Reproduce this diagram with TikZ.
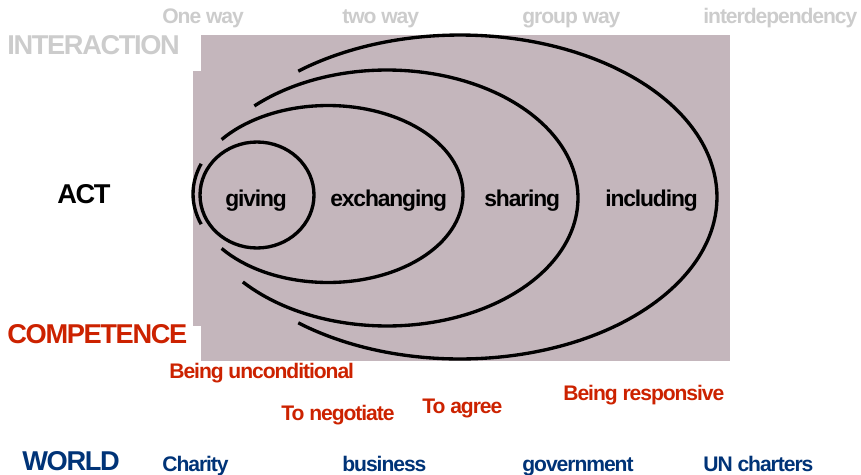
\documentclass[tikz,border=0pt]{standalone}
\usepackage{fontspec}
\setmainfont{Liberation Sans}[LetterSpace=-5]
\definecolor{mauve}{RGB}{196,182,188}
\definecolor{headgrey}{RGB}{204,204,204}
\definecolor{skillred}{RGB}{204,34,0}
\definecolor{worldblue}{RGB}{0,51,119}
\tikzset{
  head/.style={text=headgrey,font=\bfseries\fontsize{12}{14}\selectfont},
  rowname/.style={font=\bfseries\fontsize{15.5}{18}\selectfont},
  skill/.style={text=skillred,font=\bfseries\fontsize{12}{14}\selectfont},
  world/.style={text=worldblue,font=\bfseries\fontsize{12}{14}\selectfont},
  deed/.style={font=\bfseries\fontsize{13}{15}\selectfont},
  ring/.style={line width=1.9pt}
}

\begin{document}
\begin{tikzpicture}
[x=0.02cm,y=0.02cm,every node/.style={inner sep=0pt,anchor=base west}]
\useasboundingbox (0,0) rectangle (861,474);
% background
\fill[mauve] (201,439) rectangle (730,113);
\fill[mauve] (193,403) rectangle (201,148);
% nested rings
\draw[ring] (257,279) ellipse [x radius=1.14cm,y radius=1.06cm];
\draw[ring] (328,280) ++(-142:2.7cm and 1.77cm) arc[start angle=-142,end angle=142,x radius=2.7cm,y radius=1.77cm];
\draw[ring] (328,280) ++(160:2.7cm and 1.77cm) arc[start angle=160,end angle=200,x radius=2.7cm,y radius=1.77cm];
\draw[ring] (387,276) ++(-139:3.82cm and 2.56cm) arc[start angle=-139,end angle=134,x radius=3.82cm,y radius=2.56cm];
\draw[ring] (460,277) ++(-129:5.14cm and 3.24cm) arc[start angle=-129,end angle=129,x radius=5.14cm,y radius=3.24cm];
% row names
\node[rowname,text=headgrey] (inter) at (7,419) {INTERACTION};
\node[rowname] (act) at (57,271) {ACT};
\node[rowname,text=skillred] (comp) at (7,131) {COMPETENCE};
\node[rowname,text=worldblue] (world) at (22,4) {WORLD};
% interaction
\node[head] (h1) at (162,450) {One way};
\node[head] (h2) at (342,450) {two way};
\node[head] (h3) at (522,450) {group way};
\node[head] (h4) at (703,450) {interdependency};
% acts
\node[deed] (giving) at (225,268) {giving};
\node[deed] (exch) at (330,268) {exchanging};
\node[deed] (shar) at (484,268) {sharing};
\node[deed] (incl) at (605,268) {including};
% competences
\node[skill] (c1) at (169,96) {Being unconditional};
\node[skill] (c2) at (281,54) {To negotiate};
\node[skill] (c3) at (422,61) {To agree};
\node[skill] (c4) at (563,74) {Being responsive};
% world
\node[world] (w1) at (162,3) {Charity};
\node[world] (w2) at (342,3) {business};
\node[world] (w3) at (522,3) {government};
\node[world] (w4) at (703,3) {UN charters};
\end{tikzpicture}
\end{document}
